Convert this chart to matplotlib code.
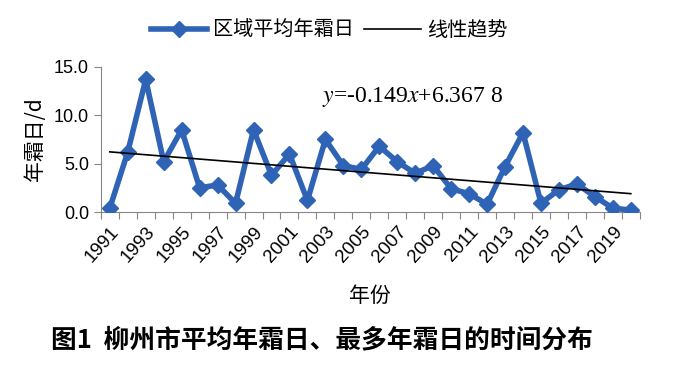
import numpy as np
import matplotlib
matplotlib.use("Agg")
import matplotlib.pyplot as plt

plt.rcParams['font.family'] = ['Noto Sans CJK SC', 'DejaVu Sans']
plt.rcParams['mathtext.fontset'] = 'stix'

years = list(range(1991, 2021))
frost_days = [0.4, 6.2, 13.7, 5.2, 8.5, 2.5, 2.8, 0.9, 8.5, 3.8,
              6.0, 1.2, 7.5, 4.8, 4.4, 6.8, 5.2, 4.0, 4.8, 2.4,
              1.9, 0.8, 4.7, 8.2, 0.9, 2.3, 2.9, 1.6, 0.4, 0.2]
slope = -0.149
intercept = 6.3678
yticks = [0.0, 5.0, 10.0, 15.0]

blue = "#2f63b5"
axis_gray = "#868686"

fig = plt.figure(figsize=(7, 3.8), dpi=100)
ax = fig.add_axes([0.144, 0.442, 0.77, 0.382])

idx = np.arange(len(years))
trend = slope * (idx + 1) + intercept

ax.plot(idx, frost_days, color=blue, lw=4, marker="D", markersize=8,
        label="区域平均年霜日", zorder=3)
ax.plot(idx, trend, color="black", lw=1.2, label="线性趋势", zorder=4)

ax.set_xlim(-0.5, len(years) - 0.5)
ax.set_ylim(0, 15)
ax.set_yticks(yticks)
ax.set_yticklabels([f"{v:.1f}" for v in yticks], family="Liberation Sans", fontsize=13)

ax.set_xticks(np.arange(-0.5, len(years), 1.0))
ax.set_xticklabels([])
ax.set_xticks(idx[::2], minor=True)
ax.set_xticklabels([str(y) for y in years[::2]], minor=True, rotation=48,
                   ha="right", rotation_mode="anchor", family="Liberation Sans",
                   fontsize=13.5)
ax.tick_params(axis="x", which="major", length=5, direction="out", color=axis_gray)
ax.tick_params(axis="x", which="minor", length=0, pad=8)
ax.tick_params(axis="y", length=5, direction="out", color=axis_gray)

for s in ["top", "right"]:
    ax.spines[s].set_visible(False)
for s in ["left", "bottom"]:
    ax.spines[s].set_color(axis_gray)

ax.set_ylabel("年霜日/d", fontsize=15, labelpad=6)
ax.set_xlabel("年份", fontsize=15, labelpad=14)

ax.text(0.41, 0.79, r"$y$=-0.149$x$+6.367 8", transform=ax.transAxes,
        family="Liberation Serif", fontsize=17, ha="left", va="center")

fig.legend(loc="upper center", bbox_to_anchor=(0.47, 0.995), ncol=2, frameon=False,
           fontsize=14.5, handlelength=2.8, columnspacing=0.5, handletextpad=0.3)

fig.text(0.46, 0.105, "图1  柳州市平均年霜日、最多年霜日的时间分布", ha="center",
         va="center", fontsize=18.5, fontweight="bold")

fig.savefig("out.png", dpi=100)
